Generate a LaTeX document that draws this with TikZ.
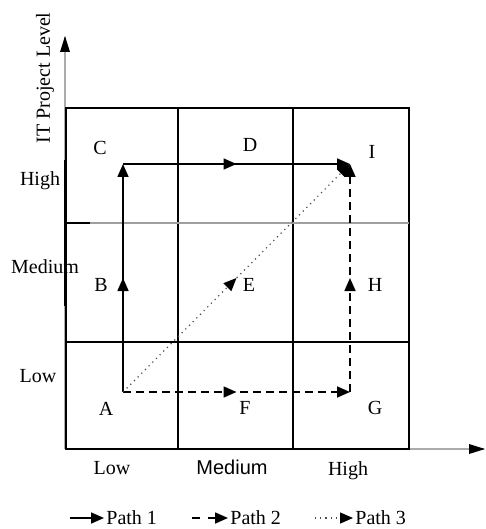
\documentclass[tikz,border=0pt]{standalone}
\usepackage{fontspec}
\setmainfont{Liberation Serif}
\newfontfamily\arialfont{Liberation Sans}
\usetikzlibrary{arrows.meta,decorations.markings,positioning}

\begin{document}
\begin{tikzpicture}[x=0.5pt,y=-0.5pt,font=\fontsize{10}{12}\selectfont,
                    tip/.style={-{Triangle[length=6.5pt,width=5.5pt,black]}},
                    mid/.style={postaction={decorate},decoration={markings,
                      mark=at position #1 with {\arrow{Triangle[length=6.5pt,width=5.5pt,black]}}}},
                    grid line/.style={line width=0.7pt},
                    axis/.style={gray!65,line width=1pt},
                    path one/.style={line width=0.8pt,tip,mid=0.5},
                    path two/.style={line width=0.8pt,dash pattern=on 4pt off 2.5pt,tip,mid=0.5},
                    path three/.style={black!70,line width=0.6pt,dotted,tip,mid=0.5}]
  \useasboundingbox (0,0) rectangle (486,529);

  % axes
  \coordinate (origin) at (65,449);
  \coordinate (ytop)   at (65,37);
  \coordinate (xend)   at (484,449);
  \draw[axis] (origin) -- (ytop);
  \draw[axis] (origin) -- (xend);
  \fill (ytop) ++(0,-1) -- ++(-5,16) -- ++(10,0) -- cycle;
  \fill (xend) ++(1,0) -- ++(-16,-5) -- ++(0,10) -- cycle;
  \draw[line width=1.1pt] (65,160) -- (65,306);
  \draw[line width=1.1pt] (65,223) -- (90,223);

  % grid
  \draw[grid line] (66,108) rectangle (409,449);
  \draw[grid line] (178,108) -- (178,449);
  \draw[grid line] (293,108) -- (293,449);
  \draw[grid line] (66,342) -- (409,342);
  \draw[gray!75,line width=1.3pt] (90,223) -- (409,223);

  % corners of the paths
  \coordinate (a) at (123,392);
  \coordinate (c) at (123,164);
  \coordinate (i) at (350,164);
  \coordinate (g) at (350,392);

  % paths
  \draw[path one]   (a) -- (c);
  \draw[path one]   (c) -- (i);
  \draw[path two]   (a) -- (g);
  \draw[path two]   (g) -- (i);
  \draw[path three] (a) -- (i);

  % cell labels
  \node (lC) at (100,148) {C};
  \node (lD) at (250,145) {D};
  \node (lI) at (372,152) {I};
  \node (lB) at (101,285) {B};
  \node (lE) at (249,285) {E};
  \node (lH) at (375,285) {H};
  \node (lA) at (106,409) {A};
  \node (lF) at (245,408) {F};
  \node (lG) at (375,408) {G};

  % axis labels
  \node[rotate=90] (ylabel) at (45,78) {IT Project Level};
  \node (yhigh) at (40,181) {High};
  \node (ymed)  at (45,267) {Medium};
  \node (ylow)  at (38,376) {Low};
  \node (xlow)  at (112,468) {Low};
  \node[font=\fontsize{10}{12}\selectfont\arialfont] (xmed) at (232,467) {Medium};
  \node (xhigh) at (348,471) {High};

  % legend
  \node[anchor=west,inner sep=1pt] (p1) at (104,518) {Path 1};
  \node[anchor=west,inner sep=1pt] (p2) at (228,518) {Path 2};
  \node[anchor=west,inner sep=1pt] (p3) at (353,518) {Path 3};
  \coordinate (l1) at (70,518);
  \coordinate (l2) at (192,518);
  \coordinate (l3) at (315,518);
  \draw[line width=0.8pt,tip] (l1) -- (p1.west);
  \draw[line width=0.8pt,dash pattern=on 4pt off 4pt,tip] (l2) -- (p2.west);
  \draw[black!70,line width=0.6pt,dotted,tip] (l3) -- (p3.west);
\end{tikzpicture}
\end{document}
